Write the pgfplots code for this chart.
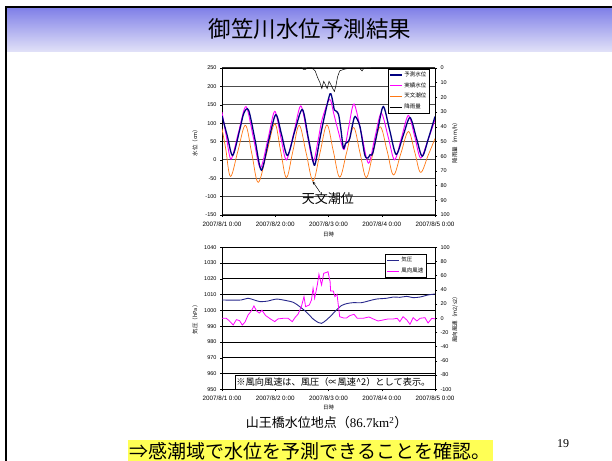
\documentclass[border=0pt]{standalone}
\usepackage{pgfplots}
\pgfplotsset{compat=1.18}
\usepackage{fontspec}
\usetikzlibrary{arrows.meta}
\setmainfont{Liberation Sans}
\newfontfamily\cjk{Noto Sans CJK JP}
\newfontfamily\serif{Liberation Serif}
\definecolor{pred}{RGB}{0,0,128}
\definecolor{meas}{RGB}{255,0,255}
\definecolor{tide}{RGB}{255,120,20}
\definecolor{pres}{RGB}{40,40,140}
\definecolor{ttop}{RGB}{128,128,232}
\definecolor{tbot}{RGB}{226,226,248}
\definecolor{hl}{RGB}{255,255,85}
\pgfplotsset{
 base/.style={scale only axis, width=213bp, xmin=0, xmax=4, anchor=south west,
   /pgf/number format/assume math mode=true, /pgf/number format/1000 sep={},
   tick label style={font=\fontsize{5.5bp}{6bp}\selectfont},
   label style={font=\cjk\fontsize{5.5bp}{6bp}\selectfont},
   tick align=outside, major tick length=2bp, tick style={black, line width=0.4bp},
   axis line style={line width=0.6bp},
   legend image code/.code={\draw[#1] (0bp,0bp) -- (12bp,0bp);},
 },
}
\pgfplotstableread{
d v
0.00 85
0.07 30
0.16 -45
0.30 25
0.44 94
0.56 17
0.68 -61
0.84 19
0.99 98
1.10 25
1.21 -48
1.33 23
1.45 94
1.58 19
1.71 -57
1.84 19
1.97 95
2.09 24
2.21 -47
2.34 20
2.47 88
2.59 20
2.71 -48
2.84 21
2.97 90
3.10 25
3.22 -41
3.36 18
3.50 77
3.62 21
3.73 -34
3.87 12
4.00 58
}\tide
\pgfplotstableread{
d v
0.00 130
0.08 65
0.17 2
0.31 75
0.45 145
0.59 60
0.72 -22
0.86 55
0.99 132
1.10 65
1.21 0
1.35 75
1.48 147
1.60 70
1.71 -5
1.80 50
1.88 110
2.02 165
2.10 125
2.18 80
2.29 28
2.38 90
2.48 152
2.62 70
2.75 -9
2.87 60
2.99 127
3.12 63
3.24 0
3.37 60
3.50 121
3.62 63
3.73 5
3.87 55
4.00 109
}\meas
\pgfplotstableread{
d v
0.00 120
0.10 65
0.20 12
0.33 80
0.41 127
0.50 135
0.62 55
0.74 -28
0.88 55
1.01 123
1.12 68
1.23 12
1.37 80
1.51 137
1.62 60
1.72 -10
1.76 -5
1.84 59
1.93 122
2.03 180
2.08 159
2.11 136
2.15 132
2.19 123
2.23 86
2.28 32
2.32 45
2.36 48
2.40 59
2.45 95
2.50 118
2.59 91
2.68 14
2.74 5
2.78 14
2.83 18
2.93 85
3.03 145
3.15 80
3.27 15
3.40 65
3.53 115
3.65 60
3.76 10
3.88 60
4.00 118
}\pred
\pgfplotstableread{
d v
0 0
1.50 0
1.53 1
1.57 1
1.60 0
1.69 0
1.75 2
1.79 6
1.84 10
1.875 14
1.91 9
1.95 12
1.975 14
2.01 9
2.04 11
2.08 14
2.11 16
2.14 12
2.17 6
2.21 2
2.28 1
2.34 0.5
2.45 0.3
2.59 0.3
2.63 2
2.66 0.3
2.80 0
4.00 0
}\rain
\pgfplotstableread{
d v
0.00 1006.6
0.36 1006.6
0.49 1007.7
0.71 1005.6
0.87 1006.0
1.02 1007.2
1.21 1006.2
1.34 1005.1
1.46 1002.4
1.59 998.8
1.71 994.6
1.81 992.3
1.87 991.8
1.96 993.9
2.06 997.1
2.15 1000.3
2.24 1003.0
2.34 1004.3
2.46 1004.9
2.62 1004.9
2.75 1006.0
2.90 1007.2
3.09 1007.7
3.22 1008.5
3.34 1008.3
3.47 1008.9
3.59 1008.1
3.72 1008.5
3.87 1009.8
4.00 1010.4
}\pres
\pgfplotstableread{
d v
0.00 0
0.08 0
0.14 -3.8
0.21 -9.4
0.27 -1.9
0.33 -3.3
0.38 -9.4
0.43 -5.6
0.49 4.7
0.55 10.3
0.60 17.4
0.65 10.3
0.70 7.5
0.75 11.3
0.82 3.8
0.91 -0.9
0.99 -4.7
1.05 -0.9
1.15 0
1.24 0
1.32 -4.7
1.37 0.9
1.43 6.1
1.49 16.4
1.54 30.5
1.57 16.4
1.64 18.8
1.68 25.8
1.71 42.3
1.74 28.2
1.79 47.0
1.82 62.0
1.87 47.0
1.91 63.4
1.95 64.3
1.99 65.7
2.03 51.6
2.04 38.5
2.09 38.5
2.12 30.5
2.16 33.8
2.21 2.3
2.28 0.5
2.34 0.5
2.40 3.8
2.48 5.6
2.54 0
2.65 0
2.76 1.9
2.84 -0.9
2.93 -3.8
3.03 -2.3
3.12 -0.9
3.22 -0.9
3.29 0
3.34 -4.7
3.40 2.3
3.47 -2.3
3.53 -8.5
3.59 0.9
3.66 -3.8
3.72 0
3.81 0.9
3.87 -6.6
3.94 0
4.00 -0.9
}\wind
\begin{document}
\begin{tikzpicture}
\path[use as bounding box] (0,0) rectangle (612bp,461bp);
\fill[white] (0,0) rectangle (612bp,461bp);
\shade[top color=ttop, bottom color=tbot] (7bp,409bp) rectangle (612bp,453bp);
\draw[black, line width=2.3bp] (6bp,0) -- (6bp,454.2bp) -- (612bp,454.2bp);
\node[font=\cjk\fontsize{22.5bp}{25bp}\selectfont] at (310bp,432bp) {御笠川水位予測結果};
% top chart
\begin{axis}[base, at={(222bp,246bp)}, height=147bp,
  ymin=-150, ymax=250, ytick distance=50, ytick pos=left,
  xtick={0,1,2,3,4}, xticklabels={2007/8/1 0:00,2007/8/2 0:00,2007/8/3 0:00,2007/8/4 0:00,2007/8/5 0:00},
  xtick pos=bottom, x tick label style={yshift=-1.5bp, font=\fontsize{6.3bp}{7bp}\selectfont},
  ymajorgrids, major grid style={line width=1bp, black!70},
  ylabel={水位（cm）}, xlabel={日時},
  ylabel style={at={(rel axis cs:-0.127,0.5)}, anchor=center},
  xlabel style={at={(rel axis cs:0.5,-0.129)}, anchor=center}]
\addplot[tide, line width=0.7bp, smooth, tension=0.6] table[x=d,y=v] {\tide};
\addplot[meas, line width=0.9bp, smooth, tension=0.5] table[x=d,y=v] {\meas};
\addplot[pred, line width=1.3bp, smooth, tension=0.5] table[x=d,y=v] {\pred};
\draw[-{Stealth[length=3.5bp,width=2.5bp]}, line width=0.5bp] (axis cs:1.84,-88) -- (axis cs:1.70,-58);
\node[font=\cjk\fontsize{13bp}{14bp}\selectfont] at (axis cs:1.99,-106) {天文潮位};
\end{axis}
\begin{axis}[base, at={(222bp,246bp)}, height=147bp,
  ymin=0, ymax=100, y dir=reverse, ytick distance=10,
  axis y line*=right, axis x line=none,
  ylabel={降雨量（mm/h）},
  ylabel style={at={(rel axis cs:1.094,0.5)}, anchor=center},
  legend style={at={(0.975,0.995)}, anchor=north east, font=\cjk\fontsize{5.5bp}{6bp}\selectfont,
    draw=black, line width=0.5bp, inner sep=1bp, row sep=0.6bp, legend cell align=left}]
\addlegendimage{pred, line width=1.3bp}
\addlegendentry{予測水位}
\addlegendimage{meas, line width=0.9bp}
\addlegendentry{実績水位}
\addlegendimage{tide, line width=0.7bp}
\addlegendentry{天文潮位}
\addplot[black, line width=0.5bp] table[x=d,y=v] {\rain};
\addlegendentry{降雨量}
\end{axis}
% bottom chart
\begin{axis}[base, at={(222bp,71.7bp)}, height=142bp,
  ymin=950, ymax=1040, ytick distance=10, ytick pos=left,
  xtick={0,1,2,3,4}, xticklabels={2007/8/1 0:00,2007/8/2 0:00,2007/8/3 0:00,2007/8/4 0:00,2007/8/5 0:00},
  xtick pos=bottom, x tick label style={yshift=-1.5bp, font=\fontsize{6.3bp}{7bp}\selectfont},
  ymajorgrids, major grid style={line width=0.8bp, black},
  ylabel={気圧（hPa）}, xlabel={日時},
  ylabel style={at={(rel axis cs:-0.127,0.5)}, anchor=center},
  xlabel style={at={(rel axis cs:0.5,-0.125)}, anchor=center}]
\addplot[pres, line width=0.9bp, smooth, tension=0.5] table[x=d,y=v] {\pres};
\end{axis}
\begin{axis}[base, at={(222bp,71.7bp)}, height=142bp,
  ymin=-100, ymax=100, ytick distance=20,
  axis y line*=right, axis x line=none,
  ylabel={風向風速（m2/s2）},
  ylabel style={at={(rel axis cs:1.094,0.5)}, anchor=center},
  legend style={at={(0.961,0.953)}, anchor=north east, font=\cjk\fontsize{5.5bp}{6bp}\selectfont,
    draw=black, line width=0.5bp, inner sep=1bp, row sep=0.6bp, legend cell align=left}]
\addlegendimage{pres, line width=0.9bp}
\addlegendentry{気圧}
\addplot[meas, line width=0.8bp] table[x=d,y=v] {\wind};
\addlegendentry{風向風速}
\draw[black, line width=0.6bp, fill=white] (rel axis cs:0.061,0) rectangle (rel axis cs:1,0.1);
\node[font=\cjk\fontsize{9.2bp}{10bp}\selectfont, anchor=east] at (rel axis cs:0.995,0.05) {※風向風速は、風圧（∝風速\textasciicircum 2）として表示。};
\end{axis}
\node[font=\fontsize{13bp}{15bp}\selectfont] at (326.7bp,38.3bp) {\cjk 山王橋水位地点（\serif 86.7km\textsuperscript{2}\cjk ）};
\fill[hl] (128bp,0) rectangle (493bp,21bp);
\node[font=\cjk\fontsize{19bp}{21bp}\selectfont] at (310bp,10bp) {⇒感潮域で水位を予測できることを確認。};
\node[font=\serif\fontsize{12bp}{14bp}\selectfont] at (563bp,17bp) {19};
\end{tikzpicture}
\end{document}
